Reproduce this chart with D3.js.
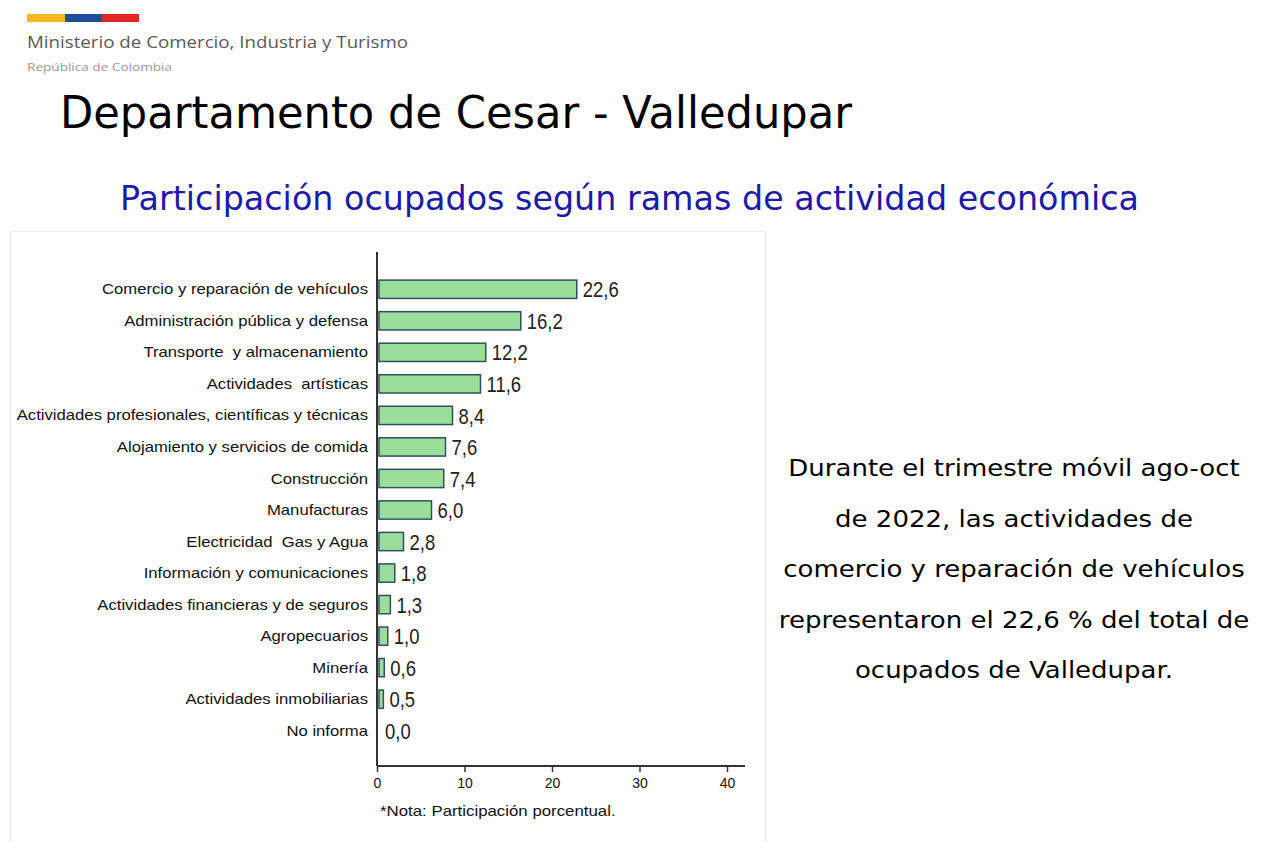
<!DOCTYPE html>
<html>
<head>
<meta charset="utf-8">
<script src="https://cdn.jsdelivr.net/npm/d3@7"></script>
<style>
  body { margin: 0; background: #fff; }
  svg { display: block; }
  text { white-space: pre; }
</style>
</head>
<body>
<div id="chart"></div>
<script>
'use strict';

var categories = [
	'Comercio y reparación de vehículos',
	'Administración pública y defensa',
	'Transporte  y almacenamiento',
	'Actividades  artísticas',
	'Actividades profesionales, científicas y técnicas',
	'Alojamiento y servicios de comida',
	'Construcción',
	'Manufacturas',
	'Electricidad  Gas y Agua',
	'Información y comunicaciones',
	'Actividades financieras y de seguros',
	'Agropecuarios',
	'Minería',
	'Actividades inmobiliarias',
	'No informa'
];
var values = [22.6, 16.2, 12.2, 11.6, 8.4, 7.6, 7.4, 6.0, 2.8, 1.8, 1.3, 1.0, 0.6, 0.5, 0.0];
var xTicks = [0, 10, 20, 30, 40];
var textLines = [
	'Durante el trimestre móvil ago-oct',
	'de 2022, las actividades de',
	'comercio y reparación de vehículos',
	'representaron el 22,6 % del total de',
	'ocupados de Valledupar.'
];

var width = 1261;
var height = 842;

// stretch a text node horizontally by a factor
function stretch(sel, k, adjust){
	sel.each(function(){
		var w = this.getComputedTextLength();
		if (w > 0) {
			d3.select(this)
				.attr('textLength', w * k)
				.attr('lengthAdjust', adjust || 'spacingAndGlyphs');
		}
	});
}

var svg = d3.select('#chart').append('svg')
	.attr('width', width)
	.attr('height', height);

// header logo strip
var strip = [['#f6b91e', 27, 38], ['#1f4e99', 65, 37], ['#e3262a', 102, 37]];
svg.selectAll('rect.strip').data(strip).enter().append('rect')
	.attr('class', 'strip')
	.attr('x', function(d){ return d[1]; })
	.attr('y', 14)
	.attr('width', function(d){ return d[2]; })
	.attr('height', 8)
	.attr('fill', function(d){ return d[0]; });

svg.append('text')
	.attr('x', 27).attr('y', 48)
	.attr('font-family', 'Open Sans, sans-serif')
	.attr('font-size', 16.5)
	.attr('textLength', 381)
	.attr('lengthAdjust', 'spacingAndGlyphs')
	.attr('fill', '#5a5a5a')
	.text('Ministerio de Comercio, Industria y Turismo');

svg.append('text')
	.attr('x', 27).attr('y', 71)
	.attr('font-family', 'Open Sans, sans-serif')
	.attr('font-size', 10)
	.attr('textLength', 145)
	.attr('lengthAdjust', 'spacingAndGlyphs')
	.attr('fill', '#9a9a9a')
	.text('República de Colombia');

svg.append('text')
	.attr('x', 60).attr('y', 128)
	.attr('font-family', 'DejaVu Sans, sans-serif')
	.attr('font-size', 44)
	.attr('textLength', 792)
	.attr('lengthAdjust', 'spacingAndGlyphs')
	.attr('fill', '#000')
	.text('Departamento de Cesar - Valledupar');

svg.append('text')
	.attr('x', 120).attr('y', 210)
	.attr('font-family', 'DejaVu Sans, sans-serif')
	.attr('font-size', 34)
	.attr('textLength', 1019)
	.attr('lengthAdjust', 'spacingAndGlyphs')
	.attr('fill', '#1b1ba8')
	.text('Participación ocupados según ramas de actividad económica');

// chart frame
svg.append('rect')
	.attr('x', 10.5).attr('y', 231.5)
	.attr('width', 755).attr('height', 620)
	.attr('fill', 'none')
	.attr('stroke', '#e6ecef')
	.attr('stroke-width', 1);

var margin = {left: 377, top: 252, right: 745, bottom: 766};

var x = d3.scaleLinear()
	.domain([0, 42])
	.range([margin.left, margin.left + 42 * 8.75]);

var y = d3.scaleBand()
	.domain(categories)
	.range([273.5, 746.5])
	.paddingInner(0.42)
	.paddingOuter(0.21);

var g = svg.append('g');

// bars
g.selectAll('rect.bar').data(values).enter().append('rect')
	.attr('class', 'bar')
	.attr('x', x(0) + 2)
	.attr('y', function(d, i){ return y(categories[i]); })
	.attr('width', function(d){ return Math.max(0, x(d) - x(0)); })
	.attr('height', y.bandwidth())
	.attr('fill', '#99df99')
	.attr('stroke', function(d){ return d > 0 ? '#2f5060' : 'none'; })
	.attr('stroke-width', 1.5);

// value labels
var vals = g.selectAll('text.val').data(values).enter().append('text')
	.attr('class', 'val')
	.attr('x', function(d){ return x(d) + 8; })
	.attr('y', function(d, i){ return y(categories[i]) + y.bandwidth() / 2; })
	.attr('dy', '0.37em')
	.attr('font-family', 'Liberation Sans, Arial, sans-serif')
	.attr('font-size', 22)
	.attr('fill', '#222')
	.text(function(d){ return d3.format('.1f')(d).replace('.', ','); });
stretch(vals, 0.84);

// category labels
var cats = g.selectAll('text.cat').data(categories).enter().append('text')
	.attr('class', 'cat')
	.attr('x', x(0) - 9)
	.attr('y', function(d){ return y(d) + y.bandwidth() / 2; })
	.attr('dy', '0.35em')
	.attr('text-anchor', 'end')
	.attr('font-family', 'Liberation Sans, Arial, sans-serif')
	.attr('font-size', 14.5)
	.attr('fill', '#111')
	.text(function(d){ return d; });
stretch(cats, 1.15);

// y axis line
g.append('line')
	.attr('x1', x(0)).attr('x2', x(0))
	.attr('y1', margin.top).attr('y2', margin.bottom)
	.attr('stroke', '#333')
	.attr('stroke-width', 2);

// x axis
var xAxis = d3.axisBottom(x).tickValues(xTicks).tickSize(6).tickPadding(6);
var ax = g.append('g')
	.attr('transform', 'translate(0,' + margin.bottom + ')')
	.call(xAxis);
ax.select('.domain')
	.attr('d', 'M' + x(0) + ',0H' + margin.right)
	.attr('stroke', '#333')
	.attr('stroke-width', 2);
ax.selectAll('.tick line').attr('stroke', '#333').attr('stroke-width', 1.5);
ax.selectAll('.tick text')
	.attr('font-family', 'Liberation Sans, Arial, sans-serif')
	.attr('font-size', 14)
	.attr('fill', '#111');

var note = svg.append('text')
	.attr('x', 380).attr('y', 816)
	.attr('font-family', 'Liberation Sans, Arial, sans-serif')
	.attr('font-size', 14.5)
	.attr('fill', '#111')
	.text('*Nota: Participación porcentual.');
stretch(note, 1.16);

// side commentary
var side = svg.append('g').selectAll('text').data(textLines).enter().append('text')
	.attr('x', 1014)
	.attr('y', function(d, i){ return 476 + i * 50.5; })
	.attr('text-anchor', 'middle')
	.attr('font-family', 'DejaVu Sans, sans-serif')
	.attr('font-size', 23)
	.attr('fill', '#000')
	.text(function(d){ return d; });
stretch(side, 1.13);
</script>
</body>
</html>
